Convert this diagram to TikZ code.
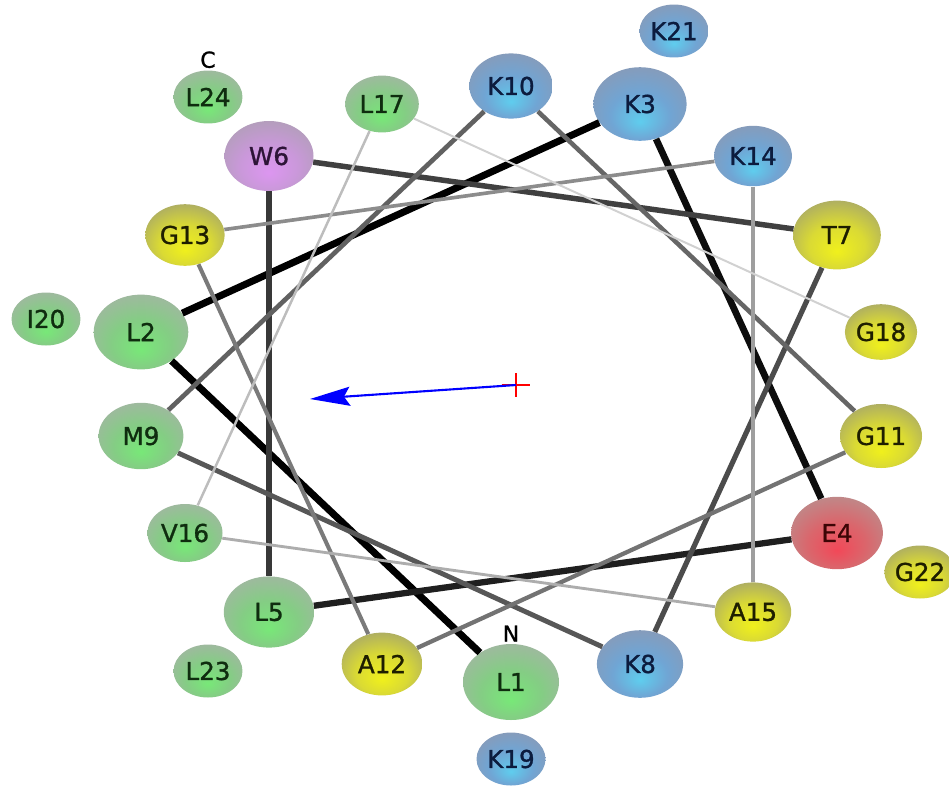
\documentclass[tikz,border=0pt]{standalone}
\usepackage{fontspec}
\usepackage{tikz}
\usepackage{xcolor}
\usetikzlibrary{shapes,arrows,arrows.meta,positioning}
\newfontfamily\resfont[FakeBold=1.2]{DejaVu Sans}

\definecolor{phobhl}{RGB}{120,232,120}
\definecolor{phobmid}{RGB}{132,205,132}
\definecolor{phobrim}{RGB}{160,184,160}
\definecolor{phobtext}{RGB}{15,45,15}
\definecolor{basichl}{RGB}{95,205,238}
\definecolor{basicmid}{RGB}{112,165,212}
\definecolor{basicrim}{RGB}{135,155,185}
\definecolor{basictext}{RGB}{12,28,62}
\definecolor{acidhl}{RGB}{242,72,88}
\definecolor{acidmid}{RGB}{218,102,108}
\definecolor{acidrim}{RGB}{190,138,138}
\definecolor{acidtext}{RGB}{60,5,5}
\definecolor{smallhl}{RGB}{240,240,28}
\definecolor{smallmid}{RGB}{218,218,52}
\definecolor{smallrim}{RGB}{172,172,100}
\definecolor{smalltext}{RGB}{30,30,0}
\definecolor{aromhl}{RGB}{220,150,240}
\definecolor{arommid}{RGB}{202,152,218}
\definecolor{aromrim}{RGB}{178,158,186}
\definecolor{aromtext}{RGB}{45,20,55}

\pgfdeclareradialshading{phobball}{\pgfpoint{0bp}{-12bp}}{color(0bp)=(phobhl); color(16bp)=(phobmid); color(31bp)=(phobrim); color(50bp)=(phobrim)}
\pgfdeclareradialshading{basicball}{\pgfpoint{0bp}{-12bp}}{color(0bp)=(basichl); color(16bp)=(basicmid); color(31bp)=(basicrim); color(50bp)=(basicrim)}
\pgfdeclareradialshading{acidball}{\pgfpoint{0bp}{-12bp}}{color(0bp)=(acidhl); color(16bp)=(acidmid); color(31bp)=(acidrim); color(50bp)=(acidrim)}
\pgfdeclareradialshading{smallball}{\pgfpoint{0bp}{-12bp}}{color(0bp)=(smallhl); color(16bp)=(smallmid); color(31bp)=(smallrim); color(50bp)=(smallrim)}
\pgfdeclareradialshading{aromball}{\pgfpoint{0bp}{-12bp}}{color(0bp)=(aromhl); color(16bp)=(arommid); color(31bp)=(aromrim); color(50bp)=(aromrim)}

\tikzset{vertex/.style = {shape=ellipse, inner sep=0pt, font=\resfont\fontsize{14}{16}\selectfont}}
\tikzset{bond/.style = {draw=black!#1, line width={(0.5+0.035*#1)*1pt}}}

\begin{document}
\begin{tikzpicture}[x=0.02cm, y=-0.02cm]
		\tikzset{phob/.style = {shading=phobball, text=phobtext}}
		\tikzset{basic/.style = {shading=basicball, text=basictext}}
		\tikzset{acidic/.style = {shading=acidball, text=acidtext}}
		\tikzset{small/.style = {shading=smallball, text=smalltext}}
		\tikzset{arom/.style = {shading=aromball, text=aromtext}}
		\tikzset{sz/.style = {minimum width={(96-1.4*(#1-1))*0.02cm}, minimum height={(76-1.2*(#1-1))*0.02cm}}}
		\tikzset{outer/.style = {minimum width=1.38cm, minimum height=1.06cm}}
		\tikzset{term/.style = {inner sep=0pt, font=\resfont\fontsize{12.5}{14}\selectfont}}
		\useasboundingbox (0,0) rectangle (949,788);
		% vertices
		\node[vertex, phob, sz=1]   (L1)  at (511,682) {L1};
		\node[vertex, phob, sz=2]   (L2)  at (141,332) {L2};
		\node[vertex, basic, sz=3]  (K3)  at (640,104) {K3};
		\node[vertex, acidic, sz=4] (E4)  at (837,533) {E4};
		\node[vertex, phob, sz=5]   (L5)  at (269,612) {L5};
		\node[vertex, arom, sz=6]   (W6)  at (269,156) {W6};
		\node[vertex, small, sz=7]  (T7)  at (837,235) {T7};
		\node[vertex, basic, sz=8]  (K8)  at (640,664) {K8};
		\node[vertex, phob, sz=9]   (M9)  at (141,436) {M9};
		\node[vertex, basic, sz=10] (K10) at (511,86)  {K10};
		\node[vertex, small, sz=11] (G11) at (881,436) {G11};
		\node[vertex, small, sz=12] (A12) at (382,664) {A12};
		\node[vertex, small, sz=13] (G13) at (185,235) {G13};
		\node[vertex, basic, sz=14] (K14) at (753,156) {K14};
		\node[vertex, small, sz=15] (A15) at (753,612) {A15};
		\node[vertex, phob, sz=16]  (V16) at (185,533) {V16};
		\node[vertex, phob, sz=17]  (L17) at (382,104) {L17};
		\node[vertex, small, sz=18] (G18) at (881,332) {G18};
		\node[vertex, basic, outer] (K19) at (511,759) {K19};
		\node[vertex, phob, outer]  (I20) at (46,319)  {I20};
		\node[vertex, basic, outer] (K21) at (674,31)  {K21};
		\node[vertex, small, outer] (G22) at (920,572) {G22};
		\node[vertex, phob, outer]  (L23) at (208,671) {L23};
		\node[vertex, phob, outer]  (L24) at (208,97)  {L24};
		\node[term, above=1pt of L1]  (nterm) {N};
		\node[term, above=1pt of L24] (cterm) {C};
		%edges
		\foreach \a/\b/\k in {L1/L2/100, L2/K3/100, K3/E4/95, E4/L5/88, L5/W6/78, W6/T7/75,
			T7/K8/70, K8/M9/66, M9/K10/62, K10/G11/60, G11/A12/55, A12/G13/52, G13/K14/45,
			K14/A15/38, A15/V16/32, V16/L17/26, L17/G18/18}
			\draw[bond=\k] (\a) -- (\b);
		% hydrophobic moment
		\coordinate (ctr) at (516,385);
		\coordinate (moment) at (310,399);
		\draw[red, line width=0.9pt] (ctr) ++(-14,0) -- ++(28,0) (ctr) ++(0,-12) -- ++(0,24);
		\draw[blue, line width=1.2pt, -{Stealth[length=0.8cm, width=0.38cm, inset=0.12cm]}] (ctr) -- (moment);
	\end{tikzpicture}
\end{document}
